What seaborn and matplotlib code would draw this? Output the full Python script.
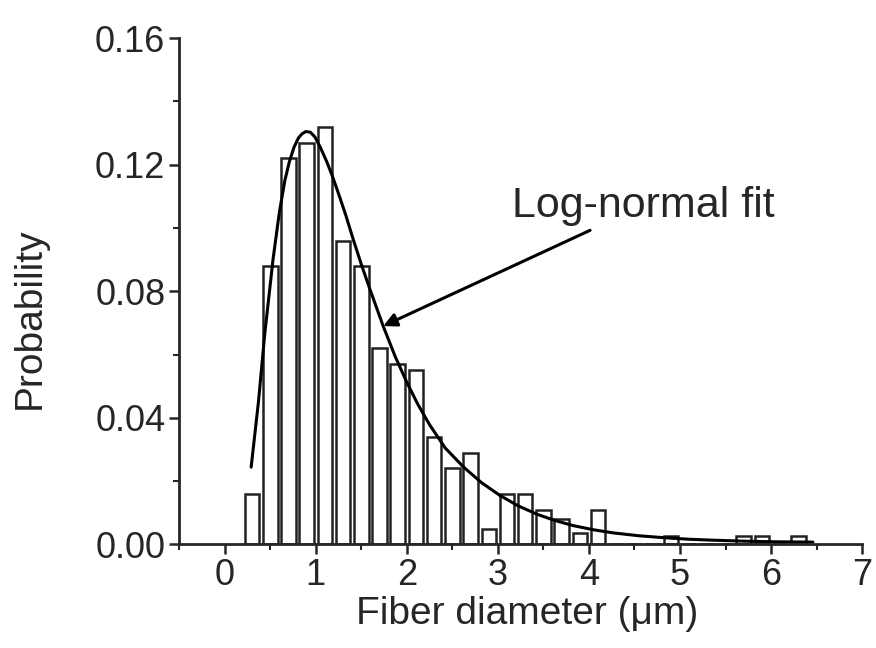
import matplotlib
matplotlib.use("Agg")
import matplotlib.pyplot as plt
import seaborn as sns
import pandas as pd
from matplotlib.ticker import MultipleLocator, FormatStrFormatter

# Histogram bins (centres, um) and probabilities
bin_centers = [0.3, 0.5, 0.7, 0.9, 1.1, 1.3, 1.5, 1.7, 1.9, 2.1, 2.3, 2.5, 2.7,
               2.9, 3.1, 3.3, 3.5, 3.7, 3.9, 4.1, 4.9, 5.7, 5.9, 6.3]
probs = [0.016, 0.088, 0.122, 0.127, 0.132, 0.096, 0.088, 0.062, 0.057, 0.055,
         0.034, 0.024, 0.029, 0.005, 0.016, 0.016, 0.011, 0.008, 0.0035, 0.011,
         0.0025, 0.0025, 0.0025, 0.0025]

# Log-normal fit curve
fit_x = [0.29, 0.37, 0.44, 0.53, 0.60, 0.66, 0.71, 0.76, 0.81, 0.85, 0.89, 0.94,
         0.99, 1.05, 1.12, 1.19, 1.26, 1.33, 1.41, 1.50, 1.59, 1.74, 1.87, 2.00,
         2.12, 2.25, 2.42, 2.62, 2.82, 3.02, 3.22, 3.43, 3.63, 3.83, 4.05, 4.27,
         4.55, 4.82, 5.10, 5.37, 5.70, 6.05, 6.46]
fit_y = [0.0244, 0.045, 0.0667, 0.090, 0.105, 0.115, 0.121, 0.1255, 0.1285, 0.1298,
         0.1305, 0.1303, 0.1288, 0.1255, 0.1210, 0.1158, 0.1100, 0.1040, 0.0965,
         0.0885, 0.0810, 0.0690, 0.0595, 0.0512, 0.0443, 0.0378, 0.0305, 0.0245,
         0.0195, 0.0155, 0.0122, 0.0095, 0.0075, 0.0059, 0.0046, 0.0036, 0.0027,
         0.0021, 0.0016, 0.0013, 0.0010, 0.0008, 0.0007]

df = pd.DataFrame({"Diameter": bin_centers, "Probability": probs})
fit = pd.DataFrame({"Diameter": fit_x, "Probability": fit_y})

sns.set_style("ticks")
plt.rcParams['font.family'] = ['Liberation Sans', 'DejaVu Sans']

fig = plt.figure(figsize=(8.76, 6.48), dpi=100)
ax = fig.add_axes([0.2046, 0.160, 0.7795, 0.781])

sns.histplot(data=df, x="Diameter", weights="Probability", binwidth=0.2,
             binrange=(0.2, 6.4), shrink=0.8, color="white", edgecolor="#222222",
             linewidth=1.8, alpha=1, ax=ax)
sns.lineplot(data=fit, x="Diameter", y="Probability", color="black", lw=2.2, ax=ax)

ax.annotate("Log-normal fit", xy=(1.74, 0.069), xytext=(3.15, 0.107),
            fontsize=31, va="center", ha="left",
            arrowprops=dict(arrowstyle="-|>", color="black", lw=2.2,
                            mutation_scale=20, shrinkA=2, shrinkB=0))

ax.set_xlim(-0.5, 7.0)
ax.set_ylim(0, 0.16)
ax.xaxis.set_major_locator(MultipleLocator(1))
ax.xaxis.set_minor_locator(MultipleLocator(0.5))
ax.yaxis.set_major_locator(MultipleLocator(0.04))
ax.yaxis.set_minor_locator(MultipleLocator(0.02))
ax.yaxis.set_major_formatter(FormatStrFormatter("%.2f"))
ax.tick_params(which="major", direction="out", length=7, width=1.8,
               labelsize=26, pad=3)
ax.tick_params(which="minor", direction="out", length=4, width=1.5)
for s in ["left", "bottom"]:
    ax.spines[s].set_linewidth(2)
sns.despine(ax=ax)

ax.set_xlabel("Fiber diameter (\u03bcm)", fontsize=28)
ax.set_ylabel("Probability", fontsize=28)
ax.xaxis.set_label_coords(0.51, -0.102)
ax.yaxis.set_label_coords(-0.193, 0.447)

fig.savefig("out.png", dpi=100)
